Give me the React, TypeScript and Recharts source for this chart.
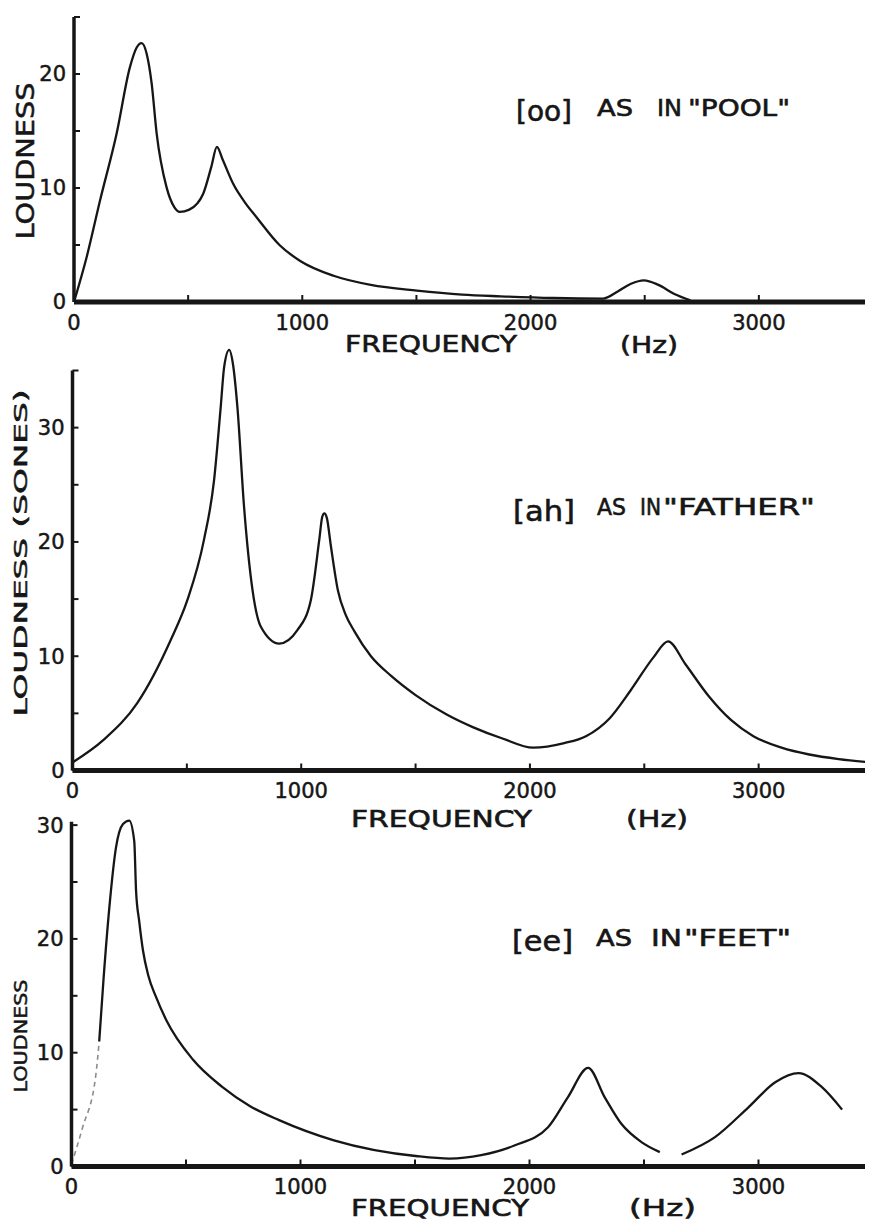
import { Line, LineChart, XAxis, YAxis } from "recharts";

// frequency (Hz) vs loudness (sones)
const FREQ_TICKS = [0, 500, 1000, 1500, 2000, 2500, 3000];

const POOL_HZ = [0, 55, 114, 187, 245, 274, 296, 318, 340, 362, 405, 440, 463, 505, 566, 602, 626, 651, 699, 750, 797, 900, 991, 1137, 1300, 1502, 1700, 1868, 2100, 2318, 2380, 2440, 2496, 2560, 2630, 2700];
const POOL_LOUD = [0, 3.9, 8.9, 14.8, 20.6, 22.3, 22.7, 21.8, 19.2, 14.8, 10.1, 8.3, 7.9, 8.1, 9.5, 11.9, 13.6, 12.5, 10.3, 8.7, 7.5, 5.0, 3.6, 2.3, 1.5, 1.0, 0.65, 0.5, 0.35, 0.3, 0.9, 1.6, 1.9, 1.5, 0.7, 0.15];
const POOL_TICKS = [0, 5, 10, 15, 20, 25];

const FATHER_HZ = [0, 137, 283, 429, 502, 575, 619, 648, 663, 685, 702, 721, 750, 787, 823, 904, 984, 1042, 1079, 1092, 1101, 1112, 1130, 1160, 1195, 1232, 1305, 1392, 1500, 1636, 1750, 1880, 2014, 2150, 2245, 2350, 2440, 2540, 2604, 2680, 2782, 2880, 2977, 3100, 3221, 3350, 3500];
const FATHER_LOUD = [0.7, 2.7, 5.9, 11.4, 14.9, 20.2, 25.4, 31.8, 35.3, 36.8, 35.5, 31.8, 23.1, 15.8, 12.6, 11.1, 12.3, 14.9, 20.2, 22.2, 22.5, 22.1, 19.6, 15.8, 13.6, 12.2, 10.0, 8.3, 6.6, 4.9, 3.8, 2.8, 2.0, 2.4, 3.0, 4.6, 7.0, 9.9, 11.3, 9.3, 6.5, 4.4, 3.0, 2.0, 1.4, 1.0, 0.7];
const FATHER_TICKS = [0, 5, 10, 15, 20, 25, 30, 35];

// faint dashed rise of the first [ee] peak
const FEET_RISE_HZ = [0, 48, 106, 121];
const FEET_RISE_LOUD = [0.2, 3.4, 8.0, 11.0];
const FEET_HZ = [121, 140, 165, 194, 225, 252, 274, 282, 296, 312, 335, 369, 413, 530, 658, 780, 904, 1146, 1512, 1650, 1789, 1934, 2081, 2168, 2256, 2328, 2401, 2489, 2569, 2615, 2664, 2810, 2956, 3073, 3175, 3277, 3365];
const FEET_LOUD = [11.0, 16.5, 22.7, 28.0, 30.1, 30.4, 28.6, 24.2, 21.5, 19.0, 16.8, 14.9, 12.9, 9.4, 7.0, 5.3, 4.1, 2.3, 0.9, 0.7, 1.0, 1.85, 3.45, 6.1, 8.67, 6.1, 3.75, 2.14, 1.26, null, 1.05, 2.58, 5.2, 7.4, 8.2, 6.97, 5.0];
const FEET_TICKS = [0, 5, 10, 15, 20, 25, 30];

const INK = "#161616";
const FONT = "'DejaVu Sans', Verdana, sans-serif";
const TICK = { fill: INK, fontSize: 21, fontFamily: FONT, stroke: INK, strokeWidth: 0.5 };

const rows = (hz: number[], loud: (number | null)[]) => hz.map((f, i) => ({ f, v: loud[i] }));

function Panel({ top, height, marginTop, yMax, yTicks, yWidth, children }: any) {
  return (
    <div style={{ position: "absolute", left: 0, top }}>
      <LineChart width={873} height={height} margin={{ top: marginTop, right: 0, bottom: 0, left: 0 }}>
        <XAxis
          type="number"
          dataKey="f"
          domain={[0, 3500]}
          ticks={FREQ_TICKS}
          interval={0}
          allowDataOverflow
          height={40}
          tickSize={-7}
          tickMargin={20}
          tickFormatter={(v: number) => (v % 1000 === 0 ? String(v) : "")}
          axisLine={{ stroke: INK, strokeWidth: 5 }}
          tickLine={{ stroke: INK, strokeWidth: 2 }}
          tick={TICK}
        />
        <YAxis
          type="number"
          domain={[0, yMax]}
          ticks={yTicks}
          interval={0}
          allowDataOverflow
          width={yWidth}
          tickSize={-6}
          tickMargin={14}
          tickFormatter={(v: number) => (v % 10 === 0 ? String(v) : "")}
          axisLine={{ stroke: INK, strokeWidth: 3.5 }}
          tickLine={{ stroke: INK, strokeWidth: 2 }}
          tick={TICK}
        />
        {children}
      </LineChart>
    </div>
  );
}

function Word({ x, y, w, size, children }: any) {
  return (
    <text
      x={x}
      y={y}
      textLength={w}
      lengthAdjust="spacingAndGlyphs"
      fontSize={size}
      fontFamily={FONT}
      fill={INK}
      stroke={INK}
      strokeWidth={0.6}
    >
      {children}
    </text>
  );
}

function VLabel({ cx, cy, len, size, children }: any) {
  return (
    <text
      x={cx}
      y={cy}
      transform={`rotate(-90 ${cx} ${cy})`}
      textAnchor="middle"
      dominantBaseline="central"
      textLength={len}
      lengthAdjust="spacingAndGlyphs"
      fontSize={size}
      fontFamily={FONT}
      fill={INK}
      stroke={INK}
      strokeWidth={0.5}
    >
      {children}
    </text>
  );
}

export default function App() {
  const curve = { type: "monotone" as const, dataKey: "v", stroke: INK, strokeWidth: 2.3, dot: false, isAnimationActive: false };
  return (
    <div style={{ position: "relative", width: 873, height: 1230, margin: "-8px 0 0 -8px", background: "#fff", overflow: "hidden" }}>
      <style>{"svg{overflow:visible} .recharts-line,.recharts-line *{clip-path:none !important}"}</style>

      <Panel top={0} height={342} marginTop={17} yMax={25} yTicks={POOL_TICKS} yWidth={74}>
        <Line data={rows(POOL_HZ, POOL_LOUD)} {...curve} />
      </Panel>

      <Panel top={340} height={470.5} marginTop={30.5} yMax={35} yTicks={FATHER_TICKS} yWidth={72.5}>
        <Line data={rows(FATHER_HZ, FATHER_LOUD)} {...curve} />
      </Panel>

      <Panel top={800} height={406.5} marginTop={21.7} yMax={30.3} yTicks={FEET_TICKS} yWidth={71.5}>
        <Line data={rows(FEET_RISE_HZ, FEET_RISE_LOUD)} {...curve} stroke="#8c8c8c" strokeWidth={1.6} strokeDasharray="5 4" />
        <Line data={rows(FEET_HZ, FEET_LOUD)} {...curve} />
      </Panel>

      <svg width={873} height={1230} style={{ position: "absolute", left: 0, top: 0, pointerEvents: "none" }}>
        <Word x={516} y={121} w={56} size={28}>[oo]</Word>
        <Word x={597} y={116} w={36} size={23}>AS</Word>
        <Word x={657} y={116} w={25} size={23}>IN</Word>
        <Word x={688} y={116} w={102} size={23}>"POOL"</Word>

        <Word x={513} y={521} w={62} size={28}>[ah]</Word>
        <Word x={597} y={515} w={29} size={23}>AS</Word>
        <Word x={640} y={515} w={21} size={23}>IN</Word>
        <Word x={663} y={515} w={152} size={23}>"FATHER"</Word>

        <Word x={512} y={951} w={61} size={28}>[ee]</Word>
        <Word x={596} y={946} w={36} size={23}>AS</Word>
        <Word x={651} y={946} w={31} size={23}>IN</Word>
        <Word x={684} y={946} w={107} size={23}>"FEET"</Word>

        <Word x={345} y={352} w={172} size={23}>FREQUENCY</Word>
        <Word x={620} y={353} w={58} size={23}>(Hz)</Word>
        <Word x={351} y={827} w={181} size={23}>FREQUENCY</Word>
        <Word x={626} y={827} w={62} size={23}>(Hz)</Word>
        <Word x={351} y={1216} w={178} size={23}>FREQUENCY</Word>
        <Word x={629} y={1216} w={67} size={23}>(Hz)</Word>

        <VLabel cx={25} cy={161} len={157} size={25}>LOUDNESS</VLabel>
        <VLabel cx={21} cy={553} len={327} size={17}>LOUDNESS (SONES)</VLabel>
        <VLabel cx={20} cy={1036} len={113} size={18}>LOUDNESS</VLabel>
      </svg>
    </div>
  );
}
